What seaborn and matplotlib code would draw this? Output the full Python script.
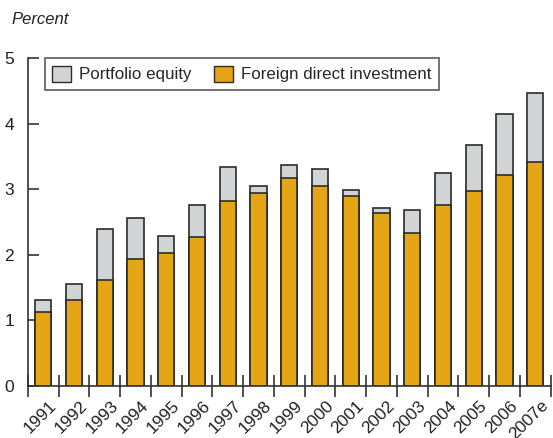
import matplotlib
matplotlib.use("Agg")
import matplotlib.pyplot as plt
import matplotlib.transforms as mtransforms
from matplotlib.patches import Patch
import numpy as np
import pandas as pd
import seaborn as sns

## data (percent)
years = ["1991", "1992", "1993", "1994", "1995", "1996", "1997", "1998", "1999",
         "2000", "2001", "2002", "2003", "2004", "2005", "2006", "2007e"]
fdi = [1.13, 1.31, 1.62, 1.94, 2.03, 2.27, 2.82, 2.94, 3.17,
       3.05, 2.90, 2.64, 2.33, 2.76, 2.97, 3.22, 3.41]
portfolio = [0.18, 0.25, 0.77, 0.62, 0.26, 0.49, 0.52, 0.11, 0.20,
             0.26, 0.09, 0.07, 0.35, 0.49, 0.70, 0.93, 1.06]

df = pd.DataFrame({"year": years, "fdi": fdi, "portfolio": portfolio})
df["total"] = df["fdi"] + df["portfolio"]

sns.set_style("white")
plt.rcParams["font.family"] = ["Liberation Sans", "DejaVu Sans"]
plt.rcParams["font.size"] = 12

orange = "#E5A514"
grey = "#D2D3D5"
edge = "#2b2b2b"

fig = plt.figure(figsize=(5.53, 4.38), dpi=100)
ax = fig.add_axes([0.0506, 0.1187, 0.945, 0.749])

## total height in grey, then FDI in orange over it
sns.barplot(data=df, x="year", y="total", color=grey, width=0.53,
            edgecolor=edge, linewidth=1.2, saturation=1, ax=ax)
sns.barplot(data=df, x="year", y="fdi", color=orange, width=0.53,
            edgecolor=edge, linewidth=1.2, saturation=1, ax=ax)

ax.set_xlim(-0.5, len(years) - 0.5)
ax.set_ylim(0, 5)
ax.set_xlabel("")
ax.set_ylabel("")

## spines
for s in ["top", "right"]:
    ax.spines[s].set_visible(False)
for s in ["left", "bottom"]:
    ax.spines[s].set_color("#333333")
    ax.spines[s].set_linewidth(1.2)

## y ticks pointing inward
ax.set_yticks([0, 1, 2, 3, 4, 5])
ax.tick_params(axis="y", left=True, direction="in", length=8, width=1.2,
               color="#333333", labelsize=12.5, labelcolor="#222222", pad=10)

## x: labels under bars, tick marks between bars
ax.set_xticks(np.arange(len(years)))
ax.set_xticklabels(years, rotation=45, ha="right", rotation_mode="anchor")
ax.tick_params(axis="x", which="major", bottom=False, length=0,
               labelsize=12.5, labelcolor="#222222", pad=8.5)
ax.set_xticks(np.arange(len(years) + 1) - 0.5, minor=True)
ax.tick_params(axis="x", which="minor", bottom=True, direction="inout",
               length=16, width=1.2, color="#333333")
offset = mtransforms.ScaledTranslation(4 / 72, 0, fig.dpi_scale_trans)
for lbl in ax.get_xticklabels():
    lbl.set_transform(lbl.get_transform() + offset)

## legend
handles = [Patch(facecolor=grey, edgecolor=edge, linewidth=1.0),
           Patch(facecolor=orange, edgecolor=edge, linewidth=1.0)]
leg = ax.legend(handles, ["Portfolio equity", "Foreign direct investment"],
                ncol=2, loc="upper left", bbox_to_anchor=(0.032, 1.0),
                frameon=True, fancybox=False, fontsize=12.2,
                handlelength=1.1, handleheight=1.1, handletextpad=0.5,
                columnspacing=1.3, borderpad=0.45, borderaxespad=0)
leg.get_frame().set_edgecolor("#333333")
leg.get_frame().set_linewidth(1.2)

fig.text(0.02, 0.955, "Percent", fontsize=12, style="italic", color="#222222",
         ha="left", va="center")

fig.savefig("out.png", dpi=100)
